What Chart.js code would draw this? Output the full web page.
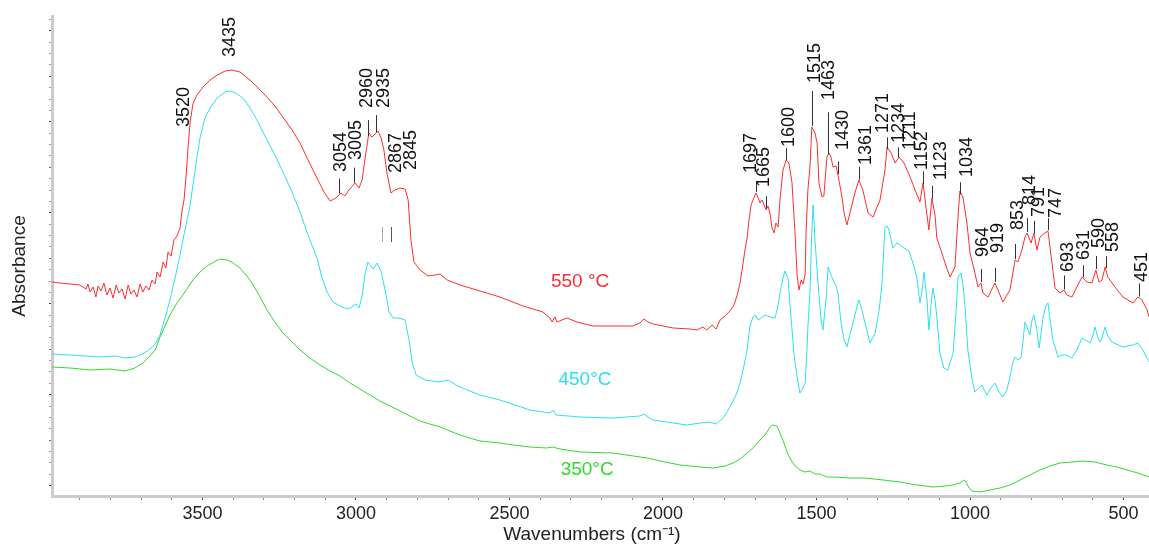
<!DOCTYPE html>
<html>
<head>
<meta charset="utf-8">
<script src="https://cdn.jsdelivr.net/npm/chart.js@4.4.1/dist/chart.umd.min.js"></script>
<style>
  html, body { margin: 0; padding: 0; background: #fff; }
</style>
</head>
<body>
<canvas id="ftir" width="1149" height="546"></canvas>
<script>
// FTIR spectra, [wavenumber (cm-1), absorbance (offset, a.u.)]
const spec550 = [[3990,0.428],[3964,0.426],[3931,0.424],[3899,0.422],[3879,0.414],[3873,0.424],[3866,0.408],[3856,0.418],[3847,0.398],[3840,0.420],[3830,0.410],[3821,0.426],[3811,0.402],[3801,0.416],[3791,0.396],[3781,0.422],[3772,0.406],[3762,0.414],[3752,0.394],[3742,0.422],[3733,0.404],[3723,0.412],[3713,0.398],[3703,0.424],[3694,0.408],[3684,0.420],[3674,0.412],[3664,0.432],[3654,0.424],[3648,0.448],[3638,0.438],[3628,0.468],[3619,0.456],[3612,0.488],[3602,0.480],[3593,0.512],[3583,0.520],[3573,0.536],[3567,0.568],[3560,0.592],[3553,0.642],[3547,0.696],[3540,0.748],[3531,0.784],[3518,0.802],[3498,0.818],[3475,0.832],[3452,0.842],[3426,0.850],[3404,0.852],[3378,0.848],[3345,0.832],[3312,0.812],[3290,0.798],[3264,0.780],[3238,0.758],[3208,0.732],[3182,0.706],[3156,0.672],[3127,0.636],[3104,0.608],[3084,0.590],[3065,0.596],[3049,0.606],[3036,0.600],[3023,0.612],[3003,0.626],[2990,0.616],[2980,0.632],[2971,0.672],[2958,0.726],[2948,0.718],[2938,0.724],[2928,0.730],[2918,0.716],[2909,0.692],[2899,0.646],[2886,0.606],[2873,0.612],[2856,0.616],[2840,0.614],[2830,0.592],[2821,0.512],[2811,0.468],[2791,0.452],[2765,0.440],[2742,0.442],[2726,0.444],[2703,0.432],[2661,0.422],[2596,0.410],[2531,0.398],[2456,0.380],[2391,0.368],[2368,0.356],[2361,0.348],[2352,0.358],[2345,0.348],[2329,0.352],[2313,0.356],[2280,0.348],[2228,0.340],[2098,0.340],[2075,0.346],[2062,0.354],[2049,0.348],[2032,0.344],[1967,0.336],[1912,0.334],[1889,0.332],[1870,0.338],[1857,0.332],[1840,0.342],[1827,0.334],[1814,0.352],[1798,0.360],[1782,0.370],[1769,0.382],[1759,0.400],[1749,0.426],[1739,0.466],[1733,0.492],[1726,0.516],[1720,0.552],[1713,0.582],[1707,0.592],[1697,0.606],[1690,0.596],[1684,0.586],[1677,0.592],[1671,0.582],[1664,0.572],[1658,0.580],[1651,0.564],[1645,0.536],[1638,0.526],[1632,0.546],[1625,0.538],[1619,0.592],[1609,0.652],[1599,0.672],[1590,0.666],[1580,0.628],[1570,0.526],[1563,0.440],[1557,0.412],[1550,0.432],[1544,0.424],[1537,0.442],[1534,0.526],[1528,0.612],[1521,0.660],[1515,0.738],[1505,0.726],[1498,0.706],[1492,0.626],[1482,0.598],[1476,0.600],[1466,0.678],[1459,0.686],[1453,0.678],[1446,0.658],[1436,0.660],[1427,0.632],[1417,0.598],[1410,0.566],[1401,0.542],[1391,0.566],[1375,0.606],[1362,0.632],[1349,0.612],[1332,0.566],[1316,0.558],[1293,0.592],[1277,0.652],[1270,0.698],[1257,0.686],[1244,0.666],[1231,0.678],[1215,0.666],[1195,0.638],[1179,0.612],[1163,0.588],[1153,0.626],[1143,0.576],[1134,0.532],[1124,0.596],[1114,0.562],[1108,0.516],[1095,0.492],[1078,0.460],[1065,0.438],[1049,0.458],[1039,0.558],[1033,0.610],[1023,0.598],[1010,0.546],[1000,0.486],[984,0.446],[974,0.418],[964,0.426],[958,0.406],[941,0.398],[919,0.426],[909,0.412],[893,0.388],[870,0.412],[853,0.472],[844,0.468],[831,0.492],[821,0.518],[814,0.526],[801,0.506],[792,0.526],[782,0.492],[772,0.518],[756,0.526],[746,0.530],[733,0.466],[723,0.416],[707,0.406],[694,0.412],[684,0.402],[668,0.398],[652,0.418],[635,0.438],[619,0.428],[603,0.426],[590,0.452],[580,0.428],[570,0.432],[560,0.458],[551,0.438],[528,0.418],[502,0.398],[469,0.386],[453,0.398],[440,0.392],[423,0.372],[417,0.358]];

const spec450 = [[3990,0.284],[3931,0.282],[3882,0.280],[3834,0.278],[3785,0.280],[3752,0.276],[3720,0.278],[3694,0.284],[3671,0.294],[3654,0.304],[3638,0.322],[3622,0.356],[3606,0.392],[3589,0.436],[3573,0.482],[3557,0.532],[3540,0.582],[3524,0.652],[3508,0.716],[3492,0.756],[3475,0.776],[3452,0.796],[3426,0.808],[3410,0.810],[3391,0.806],[3365,0.794],[3345,0.776],[3319,0.748],[3293,0.716],[3264,0.682],[3238,0.648],[3208,0.608],[3182,0.568],[3156,0.522],[3127,0.476],[3111,0.438],[3094,0.408],[3075,0.388],[3052,0.380],[3029,0.374],[3013,0.378],[3000,0.384],[2990,0.376],[2980,0.400],[2971,0.442],[2961,0.468],[2951,0.460],[2944,0.454],[2931,0.466],[2918,0.448],[2905,0.412],[2892,0.368],[2879,0.356],[2860,0.356],[2840,0.352],[2827,0.312],[2817,0.268],[2804,0.242],[2775,0.232],[2733,0.228],[2700,0.232],[2668,0.220],[2629,0.210],[2596,0.202],[2531,0.192],[2433,0.172],[2368,0.166],[2358,0.172],[2348,0.162],[2270,0.158],[2163,0.156],[2075,0.160],[2062,0.164],[2049,0.158],[2032,0.152],[1922,0.142],[1879,0.146],[1847,0.148],[1827,0.144],[1804,0.156],[1782,0.178],[1762,0.202],[1749,0.226],[1739,0.252],[1726,0.292],[1717,0.338],[1707,0.358],[1700,0.362],[1690,0.352],[1681,0.356],[1668,0.362],[1651,0.358],[1635,0.356],[1625,0.382],[1619,0.406],[1609,0.436],[1603,0.450],[1593,0.436],[1583,0.358],[1573,0.282],[1563,0.238],[1554,0.206],[1544,0.216],[1537,0.226],[1531,0.292],[1528,0.338],[1521,0.412],[1515,0.532],[1511,0.582],[1505,0.512],[1495,0.426],[1485,0.352],[1479,0.332],[1469,0.392],[1462,0.458],[1453,0.442],[1446,0.432],[1436,0.420],[1430,0.406],[1420,0.346],[1410,0.312],[1401,0.298],[1391,0.322],[1381,0.346],[1371,0.372],[1362,0.392],[1352,0.372],[1342,0.346],[1326,0.306],[1309,0.326],[1296,0.372],[1287,0.422],[1277,0.538],[1270,0.540],[1264,0.532],[1251,0.496],[1238,0.506],[1228,0.502],[1215,0.496],[1199,0.490],[1186,0.466],[1173,0.436],[1163,0.386],[1156,0.412],[1150,0.448],[1140,0.392],[1134,0.332],[1127,0.382],[1121,0.416],[1114,0.392],[1108,0.358],[1098,0.286],[1085,0.256],[1072,0.252],[1055,0.286],[1046,0.362],[1039,0.438],[1029,0.446],[1023,0.422],[1016,0.378],[1007,0.292],[993,0.232],[984,0.208],[971,0.216],[961,0.222],[954,0.212],[945,0.202],[932,0.216],[919,0.226],[906,0.208],[893,0.198],[880,0.212],[870,0.238],[860,0.268],[853,0.278],[844,0.272],[834,0.276],[827,0.312],[821,0.348],[811,0.332],[805,0.322],[798,0.352],[792,0.362],[782,0.332],[775,0.296],[769,0.322],[762,0.358],[752,0.382],[746,0.386],[739,0.352],[730,0.312],[713,0.278],[700,0.282],[687,0.282],[668,0.276],[652,0.292],[635,0.316],[619,0.310],[609,0.306],[599,0.322],[593,0.338],[583,0.316],[577,0.308],[567,0.322],[560,0.338],[551,0.320],[538,0.308],[502,0.298],[469,0.302],[453,0.306],[437,0.292],[417,0.268]];

const spec350 = [[3990,0.258],[3931,0.256],[3866,0.252],[3801,0.254],[3752,0.250],[3720,0.256],[3694,0.266],[3671,0.280],[3654,0.292],[3638,0.318],[3622,0.340],[3606,0.362],[3583,0.386],[3557,0.408],[3531,0.432],[3508,0.448],[3485,0.460],[3462,0.468],[3443,0.474],[3420,0.472],[3400,0.466],[3378,0.456],[3355,0.440],[3335,0.422],[3312,0.398],[3290,0.372],[3264,0.348],[3238,0.326],[3208,0.308],[3182,0.292],[3150,0.276],[3117,0.262],[3084,0.250],[3052,0.240],[3019,0.226],[2987,0.214],[2954,0.202],[2922,0.190],[2889,0.180],[2856,0.170],[2824,0.160],[2791,0.150],[2759,0.144],[2726,0.138],[2694,0.130],[2661,0.122],[2629,0.116],[2596,0.110],[2531,0.106],[2488,0.102],[2433,0.098],[2378,0.096],[2361,0.098],[2335,0.094],[2270,0.088],[2163,0.086],[2052,0.076],[1993,0.068],[1945,0.062],[1879,0.058],[1837,0.056],[1798,0.060],[1772,0.066],[1749,0.074],[1726,0.086],[1707,0.096],[1684,0.112],[1668,0.122],[1651,0.138],[1642,0.142],[1629,0.140],[1619,0.126],[1606,0.106],[1596,0.088],[1583,0.072],[1570,0.060],[1554,0.052],[1537,0.048],[1521,0.050],[1505,0.044],[1489,0.044],[1466,0.038],[1440,0.038],[1391,0.036],[1342,0.036],[1283,0.032],[1228,0.028],[1173,0.022],[1121,0.018],[1081,0.020],[1055,0.022],[1033,0.026],[1020,0.032],[1013,0.028],[1003,0.016],[993,0.010],[967,0.008],[935,0.012],[902,0.016],[870,0.022],[837,0.032],[805,0.042],[772,0.052],[739,0.060],[707,0.066],[668,0.068],[632,0.070],[593,0.068],[554,0.062],[521,0.058],[489,0.052],[453,0.046],[417,0.038]];

// peak labels on the 550 °C trace: [text, label wavenumber, label foot (abs), leader length px]
const peakMarks = [
  ['3520', 3565, 0.738, 0], ['3435', 3416, 0.878, 0], ['3054', 3052, 0.648, 15], ['3005', 3003, 0.672, 15],
  ['2960', 2967, 0.776, 16], ['2935', 2912, 0.776, 17], ['2867', 2873, 0.646, 0], ['2845', 2826, 0.652, 0],
  ['1697', 1717, 0.646, 10], ['1665', 1674, 0.618, 12], ['1600', 1594, 0.698, 12], ['1515', 1511, 0.826, 35],
  ['1463', 1464, 0.792, 42], ['1430', 1418, 0.692, 13], ['1361', 1342, 0.662, 13], ['1271', 1288, 0.726, 12],
  ['1234', 1235, 0.706, 10], ['1211', 1199, 0.692, 0], ['1152', 1160, 0.652, 13], ['1123', 1098, 0.632, 13],
  ['1034', 1013, 0.638, 12], ['964', 962, 0.478, 13], ['919', 913, 0.486, 14], ['853', 848, 0.532, 15],
  ['814', 808, 0.582, 14], ['791', 779, 0.558, 13], ['747', 723, 0.556, 12], ['693', 685, 0.448, 14],
  ['631', 632, 0.472, 12], ['590', 586, 0.496, 13], ['558', 538, 0.488, 12], ['451', 443, 0.428, 13]
];
// two stray marker ticks left over under 2867 / 2845
const strayMarks = [[2915, 0.508, 0.538], [2886, 0.508, 0.538]];

const RED = 'rgb(255,45,45)';
const CYAN = 'rgb(40,225,238)';
const GREEN = 'rgb(45,218,45)';

const tempLabels = [['550 \u00B0C', 2270, 0.428, RED], ['450\u00B0C', 2254, 0.232, CYAN], ['350\u00B0C', 2247, 0.052, GREEN]];

const FONT = '"Liberation Sans", Arial, sans-serif';

// linear interpolation on a spectrum (wavenumbers descending)
function valueAt(spec, wn) {
    for (let i = 0; i < spec.length - 1; i++) {
        const a = spec[i], b = spec[i + 1];
        if (wn <= a[0] && wn >= b[0]) {
            return a[1] + (b[1] - a[1]) * (a[0] - wn) / (a[0] - b[0]);
        }
    }
    return spec[spec.length - 1][1];
}

const annotate = {
    id: 'annotate',
    afterDatasetsDraw(chart) {
        const { ctx, scales: { x, y } } = chart;
        ctx.save();

        // peak numbers, rotated, with short leaders down to the 550 °C curve
        ctx.font = '18px ' + FONT;
        ctx.fillStyle = '#111';
        ctx.textAlign = 'left';
        ctx.textBaseline = 'alphabetic';
        peakMarks.forEach(([txt, lwn, foot, lead]) => {
            const px = x.getPixelForValue(lwn);
            const py = y.getPixelForValue(foot);
            ctx.save();
            ctx.translate(px, py);
            ctx.rotate(-Math.PI / 2);
            ctx.fillText(txt, 0, 6.4);
            ctx.restore();
            if (lead > 0) {
                const wn = Number(txt);
                const cx = Math.round(x.getPixelForValue(wn)) + 0.5;
                const cy = y.getPixelForValue(valueAt(spec550, wn)) - 1;
                ctx.strokeStyle = '#333';
                ctx.lineWidth = 1;
                ctx.beginPath();
                ctx.moveTo(cx, cy);
                ctx.lineTo(cx, cy - lead);
                ctx.stroke();
            }
        });

        strayMarks.forEach(([wn, lo, hi], i) => {
            const cx = Math.round(x.getPixelForValue(wn)) + 0.5;
            ctx.strokeStyle = i === 0 ? '#aaa' : '#555';
            ctx.beginPath();
            ctx.moveTo(cx, y.getPixelForValue(lo));
            ctx.lineTo(cx, y.getPixelForValue(hi));
            ctx.stroke();
        });

        // temperature labels
        ctx.font = '19px ' + FONT;
        ctx.textAlign = 'center';
        ctx.textBaseline = 'middle';
        tempLabels.forEach(([txt, wn, v, col]) => {
            ctx.fillStyle = col;
            ctx.fillText(txt, x.getPixelForValue(wn), y.getPixelForValue(v));
        });

        // axis titles
        ctx.fillStyle = '#222';
        ctx.fillText('Wavenumbers (cm\u207B\u00B9)', 592, 535);
        ctx.translate(20, 266);
        ctx.rotate(-Math.PI / 2);
        ctx.fillText('Absorbance', 0, 0);
        ctx.restore();
    }
};

const yTickTop = 0.953;
const yTickStep = 0.02274;

const ctx = document.getElementById('ftir').getContext('2d');
new Chart(ctx, {
    type: 'line',
    data: {
        datasets: [
            { label: '350°C', data: spec350.map(([x, y]) => ({ x, y })), borderColor: GREEN },
            { label: '450°C', data: spec450.map(([x, y]) => ({ x, y })), borderColor: CYAN },
            { label: '550 °C', data: spec550.map(([x, y]) => ({ x, y })), borderColor: RED }
        ]
    },
    options: {
        responsive: false,
        animation: false,
        layout: { padding: { top: 16, right: 0, bottom: 0, left: 0 } },
        elements: {
            point: { radius: 0 },
            line: { borderWidth: 1, tension: 0, fill: false }
        },
        plugins: {
            legend: { display: false },
            tooltip: { enabled: false }
        },
        scales: {
            x: {
                type: 'linear',
                reverse: true,
                min: 417,
                max: 3990,
                afterFit: scale => { scale.height = 50; },
                border: { display: true, color: '#cbcbcb', width: 3 },
                grid: {
                    drawOnChartArea: false,
                    tickLength: 4,
                    tickColor: c => (c.tick && c.tick.value % 500 === 0) ? '#444' : '#888'
                },
                ticks: {
                    stepSize: 100,
                    includeBounds: false,
                    autoSkip: false,
                    maxRotation: 0,
                    padding: 3,
                    color: '#222',
                    font: { family: FONT, size: 18 },
                    callback: v => (v % 500 === 0 ? String(v) : '')
                },
                title: { display: false }
            },
            y: {
                min: 0,
                max: 0.96,
                afterFit: scale => { scale.width = 52; },
                afterBuildTicks: scale => {
                    const ticks = [];
                    for (let k = 0; k < 42; k++) ticks.push({ value: yTickTop - k * yTickStep });
                    scale.ticks = ticks;
                },
                border: { display: true, color: '#cbcbcb', width: 3 },
                grid: {
                    drawOnChartArea: false,
                    tickLength: 3,
                    tickColor: c => (c.index % 8 === 1 ? '#444' : c.index % 4 === 1 ? '#666' : '#999')
                },
                ticks: { display: false }
            }
        }
    },
    plugins: [annotate]
});
</script>
</body>
</html>
